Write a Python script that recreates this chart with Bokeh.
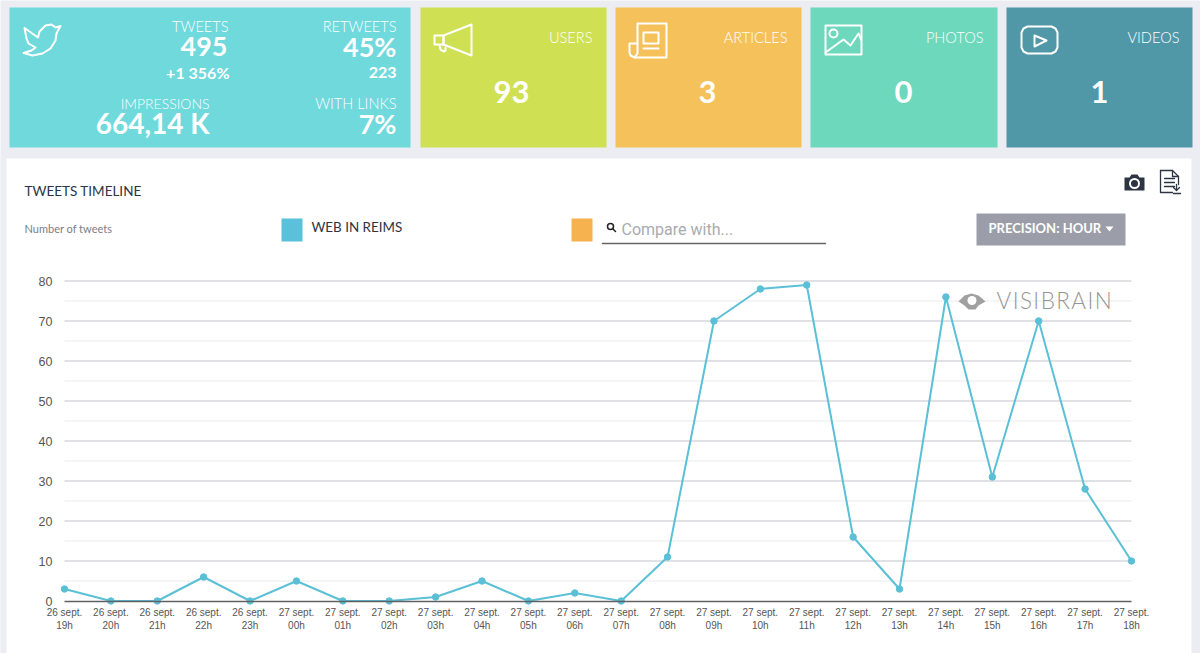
from bokeh.plotting import figure
from bokeh.embed import file_html
from bokeh.resources import INLINE
from bokeh.core.properties import value
from bokeh.models import FixedTicker, Range1d

# ---------- data ----------
hours = ["26 sept.\n19h", "26 sept.\n20h", "26 sept.\n21h", "26 sept.\n22h", "26 sept.\n23h",
         "27 sept.\n00h", "27 sept.\n01h", "27 sept.\n02h", "27 sept.\n03h", "27 sept.\n04h",
         "27 sept.\n05h", "27 sept.\n06h", "27 sept.\n07h", "27 sept.\n08h", "27 sept.\n09h",
         "27 sept.\n10h", "27 sept.\n11h", "27 sept.\n12h", "27 sept.\n13h", "27 sept.\n14h",
         "27 sept.\n15h", "27 sept.\n16h", "27 sept.\n17h", "27 sept.\n18h"]
tweets = [3, 0, 0, 6, 0, 5, 0, 0, 1, 5, 0, 2, 0, 11, 70, 78, 79, 16, 3, 76, 31, 70, 28, 10]
y_major = [0, 10, 20, 30, 40, 50, 60, 70, 80]
y_minor = [5, 15, 25, 35, 45, 55, 65, 75]

BG = "#ebedf2"
LINE = "#5bc0d6"
DARK = "#2d3443"
W = "#ffffff"
GILL = "Lato"
LIGHT = "Lato Light"

PW, PH = 1200, 653
X0, XSTEP = 64, 46.39      # first hour's pixel, pixels per hour
Y0, YSTEP = 600.5, 4.0     # zero's pixel, pixels per tweet

p = figure(width=PW, height=PH,
           x_range=(-X0 / XSTEP, (PW - X0) / XSTEP),
           y_range=((Y0 - PH) / YSTEP, Y0 / YSTEP),
           output_backend="svg", toolbar_location=None, min_border=0,
           border_fill_color=BG, background_fill_color=BG, outline_line_color=None)
p.grid.visible = False
# page-pixel scale for the dashboard furniture around the chart
p.extra_x_ranges = {"px": Range1d(0, PW)}
p.extra_y_ranges = {"px": Range1d(PH, 0)}
PX = dict(x_range_name="px", y_range_name="px")


def box(l, r, t, b, c):
    p.quad(left=[l], right=[r], top=[t], bottom=[b], fill_color=c, line_color=None, **PX)


def txt(x, y, s, size, color=W, align="right", font=LIGHT, style="normal"):
    # y is the wanted baseline; the browser sets this text lower by about 0.37 of its size
    p.text(x=[x], y=[y - 0.37 * size - 0.5], text=[s], text_font=value(font), text_font_size=f"{size}px",
           text_color=color, text_align=align, text_baseline="alphabetic",
           text_font_style=style, **PX)


def stroke(xs, ys, w=2, c=W):
    p.line(xs, ys, line_color=c, line_width=w, line_join="round", line_cap="round", **PX)


box(6, 1191, 158, PH, W)
box(9, 410, 7, 147, "#6fd9dc")
box(420, 606, 7, 147, "#cfe053")
box(615, 801, 7, 147, "#f4c15b")
box(810, 997, 7, 147, "#6dd8bb")
box(1006, 1192, 7, 147, "#5098a8")

txt(228, 32, "TWEETS", 14.6)
txt(227, 56, "495", 27, font=GILL, style="bold")
txt(229, 78, "+1 356%", 16, font=GILL, style="bold")
txt(396, 32, "RETWEETS", 14.6)
txt(396, 56, "45%", 27, font=GILL, style="bold")
txt(396, 78, "223", 16, font=GILL, style="bold")
txt(209, 109, "IMPRESSIONS", 14)
txt(209, 133, "664,14 K", 28, font=GILL, style="bold")
txt(396, 109, "WITH LINKS", 14.6)
txt(396, 133, "7%", 27, font=GILL, style="bold")

for x, label in [(592, "USERS"), (787, "ARTICLES"), (983, "PHOTOS"), (1179, "VIDEOS")]:
    txt(x, 43, label, 14.6)
for x, label in [(511, "93"), (707, "3"), (903, "0"), (1099, "1")]:
    txt(x, 103, label, 31, align="center", font=GILL, style="bold")

# icons
stroke([24, 37.5, 39, 45, 51, 55, 60, 57, 56, 55, 50, 42, 32, 23, 31, 35, 28, 26, 24],
       [27.5, 37, 31, 25, 24, 27, 25.5, 31, 33, 40, 48, 53, 55, 52.5, 50, 47, 43, 38, 27.5])
stroke([443, 471, 471, 443, 443], [35, 24, 55, 44, 35])
stroke([434, 443, 443, 434, 434], [35, 35, 44, 44, 35])
stroke([439, 440, 443, 445, 445], [45, 49, 51, 50, 47])
stroke([637, 637, 666, 666, 634, 630, 629, 629, 637], [43, 23, 23, 57, 57, 55, 52, 43, 43])
stroke([637, 637, 634], [43, 53, 57])
stroke([643, 658, 658, 643, 643], [32, 32, 43, 43, 32])
stroke([643, 658], [48, 48])
stroke([825, 861, 861, 825, 825], [25, 25, 54, 54, 25])
stroke([825, 843, 850, 858, 861], [52, 39, 45, 33, 40])
p.scatter([833], [33], size=8, marker="circle", fill_color=None, line_color=W, line_width=2, **PX)
stroke([1027, 1051, 1055, 1057, 1057, 1055, 1051, 1027, 1023, 1021, 1021, 1023, 1027],
       [26, 26, 28, 32, 47, 51, 53, 53, 51, 47, 32, 28, 26])
stroke([1034, 1046, 1034, 1034], [35, 40, 46, 35])

# header
txt(24, 196, "TWEETS TIMELINE", 13.5, DARK, "left", GILL)
txt(24, 233, "Number of tweets", 11, "#7b7e85", "left", GILL)
box(281, 302, 218, 241, "#5bc0d9")
txt(311, 232, "WEB IN REIMS", 13.4, DARK, "left", GILL)
box(571, 592, 218, 241, "#f5b24f")
p.scatter([610], [226], size=6, marker="circle", fill_color=None, line_color="#222222", line_width=1.5, **PX)
stroke([612, 615], [228, 231], 1.5, "#222222")
txt(621, 235, "Compare with...", 16, "#a9abb0", "left", "Roboto")
stroke([602, 825], [243, 243], 1.5, "#666666")
box(976, 1125, 213, 245, "#9b9ea8")
txt(988, 233, "PRECISION: HOUR", 13, W, "left", GILL, "bold")
p.patch([1105, 1113, 1109], [226, 226, 231], fill_color=W, line_color=None, **PX)

# camera and export icons
p.patch([1124, 1129, 1131, 1137, 1139, 1144, 1144, 1124],
        [177, 177, 174, 174, 177, 177, 190, 190], fill_color=DARK, line_color=None, **PX)
p.scatter([1134], [183], size=9, marker="circle", fill_color=None, line_color=W, line_width=2, **PX)
stroke([1160, 1172, 1178, 1178], [170, 170, 176, 184], 1.3, DARK)
stroke([1160, 1160, 1172], [170, 192, 192], 1.3, DARK)
stroke([1172, 1172, 1178], [170, 176, 176], 1.3, DARK)
for yy in (178, 182, 186):
    stroke([1164, 1174], [yy, yy], 1.3, DARK)
stroke([1176, 1176], [184, 189], 1.3, DARK)
stroke([1173, 1176, 1179], [187, 190, 187], 1.3, DARK)
stroke([1173, 1180], [193, 193], 1.3, DARK)

# ---------- chart ----------
idx = list(range(len(tweets)))

p.segment(x0=[0] * len(y_minor), x1=[idx[-1]] * len(y_minor), y0=y_minor, y1=y_minor,
          line_color="#f1f2f4", line_width=1.5)
p.segment(x0=[0] * len(y_major[1:]), x1=[idx[-1]] * len(y_major[1:]), y0=y_major[1:], y1=y_major[1:],
          line_color="#d5d7dc", line_width=1.5)

ax = p.xaxis[0]
ax.fixed_location = 0
ax.bounds = (0, idx[-1])
ax.ticker = FixedTicker(ticks=idx)
ax.major_label_overrides = {i: h for i, h in enumerate(hours)}
ax.major_label_text_font = "Liberation Sans"
ax.major_label_text_font_size = "10px"
ax.major_label_text_color = "#555555"
ax.major_label_standoff = 0
ax.major_tick_line_color = None
ax.minor_tick_line_color = None
ax.axis_line_color = "#5f6165"
ax.axis_line_width = 1.5

ay = p.yaxis[0]
ay.fixed_location = 0
ay.ticker = FixedTicker(ticks=y_major)
ay.major_label_text_font = "Liberation Sans"
ay.major_label_text_font_size = "12.5px"
ay.major_label_text_color = "#555555"
ay.major_label_standoff = 6
ay.major_tick_line_color = None
ay.minor_tick_line_color = None
ay.axis_line_color = None

p.line(idx, tweets, line_color=LINE, line_width=2)
p.scatter(idx, tweets, size=6.5, marker="circle", fill_color=LINE, line_color=LINE)

# watermark (hair spaces give it the wide tracking of the logo)
txt(996, 309, "\u200a".join("VISIBRAIN"), 22.5, "#969696", "left", LIGHT)
p.patch([958, 964, 971, 978, 985, 978, 975, 968, 964],
        [301, 295, 293, 295, 301, 305, 309, 309, 305],
        fill_color="#a0a0a0", line_color=None, **PX)
p.scatter([971.5], [300], size=9, marker="circle", fill_color=W, line_color=None, **PX)

open("out.html", "w").write(file_html(p, INLINE))
